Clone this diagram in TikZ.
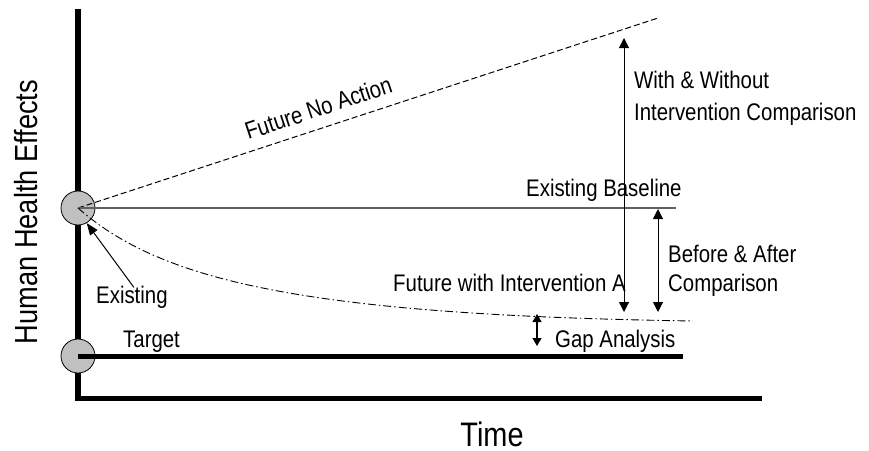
\documentclass[tikz,border=0pt]{standalone}
\usepackage{fontspec}
\setmainfont{Liberation Sans}
\newfontfamily\nar{Liberation Sans}[FakeStretch=0.85]
\usetikzlibrary{arrows.meta}
\definecolor{circfill}{HTML}{C0C0C0}
\definecolor{baseg}{HTML}{606060}
\begin{document}
\begin{tikzpicture}[x=1pt,y=-1pt,
  lbl/.style={inner sep=0pt,anchor=base west,font=\nar\fontsize{24}{28}\selectfont},
  ptc/.style={circle,draw=black,line width=0.8pt,fill=circfill,minimum size=34pt,inner sep=0pt},
  axis/.style={line width=6pt,black},
  dim/.style={line width=1pt,black,{Triangle[length=10pt,width=10pt]}-{Triangle[length=10pt,width=10pt]}},
  pointer/.style={line width=1pt,black,-{Triangle[length=12pt,width=9pt]}}]
\useasboundingbox (0,0) rectangle (869,450);
% axes
\coordinate (ytop) at (78,12);
\coordinate (orig) at (78,398);
\coordinate (xend) at (762,398);
\draw[axis,line cap=rect] (ytop) -- (orig);
\draw[line width=5pt,black] (75,398) -- (xend);
% points
\node[ptc] (ex) at (78,208) {};
\node[ptc] (tg) at (78,356) {};
% lines
\coordinate (noend) at (658,18);
\coordinate (blend) at (676,208);
\coordinate (tgend) at (683,356);
\coordinate (iaend) at (693,321);
\draw[line width=1pt,dash pattern=on 6pt off 3pt] (ex.center) -- (noend);
\draw[line width=1.5pt,baseg] (ex.center) -- (blend);
\draw[line width=5pt,black] (tg.center) -- (tgend);
\draw[line width=0.9pt,dash pattern=on 8pt off 3pt on 1.5pt off 3pt] (ex.center) .. controls (160,280) and (300,315) .. (iaend);
% dimension arrows
\coordinate (ww1) at (624,38);
\coordinate (ww2) at (624,312);
\coordinate (ba1) at (658,209);
\coordinate (ba2) at (658,312);
\coordinate (ga1) at (537,314);
\coordinate (ga2) at (537,346);
\draw[dim] (ww1) -- (ww2);
\draw[dim] (ba1) -- (ba2);
\draw[dim,line width=1.2pt,{Triangle[length=8pt,width=9pt]}-{Triangle[length=8pt,width=9pt]}] (ga1) -- (ga2);
% labels
\node[lbl] (wwa) at (634,88) {With \& Without};
\node[lbl] (wwb) at (634,120) {Intervention Comparison};
\node[lbl] (baa) at (668,262) {Before \& After};
\node[lbl] (bab) at (668,291) {Comparison};
\node[lbl] (gap) at (555,347) {Gap Analysis};
\node[lbl] (fia) at (393,291) {Future with Intervention A};
\node[lbl] (exb) at (526,196) {Existing Baseline};
\node[lbl,anchor=base,rotate=18.2] (fna) at (321,116) {Future No Action};
\node[lbl] (exl) at (96,303) {Existing};
\node[lbl] (tgl) at (123,347) {Target};
\node[inner sep=0pt,anchor=base,font=\nar\fontsize{34}{38}\selectfont] (time) at (492,446) {Time};
\node[inner sep=0pt,anchor=base,rotate=90,font=\nar\fontsize{32}{36}\selectfont] (hhe) at (37,212) {Human Health Effects};
% existing pointer
\draw[pointer] ([xshift=2pt,yshift=-2pt]exl.north) -- (ex.-60);
\end{tikzpicture}
\end{document}
